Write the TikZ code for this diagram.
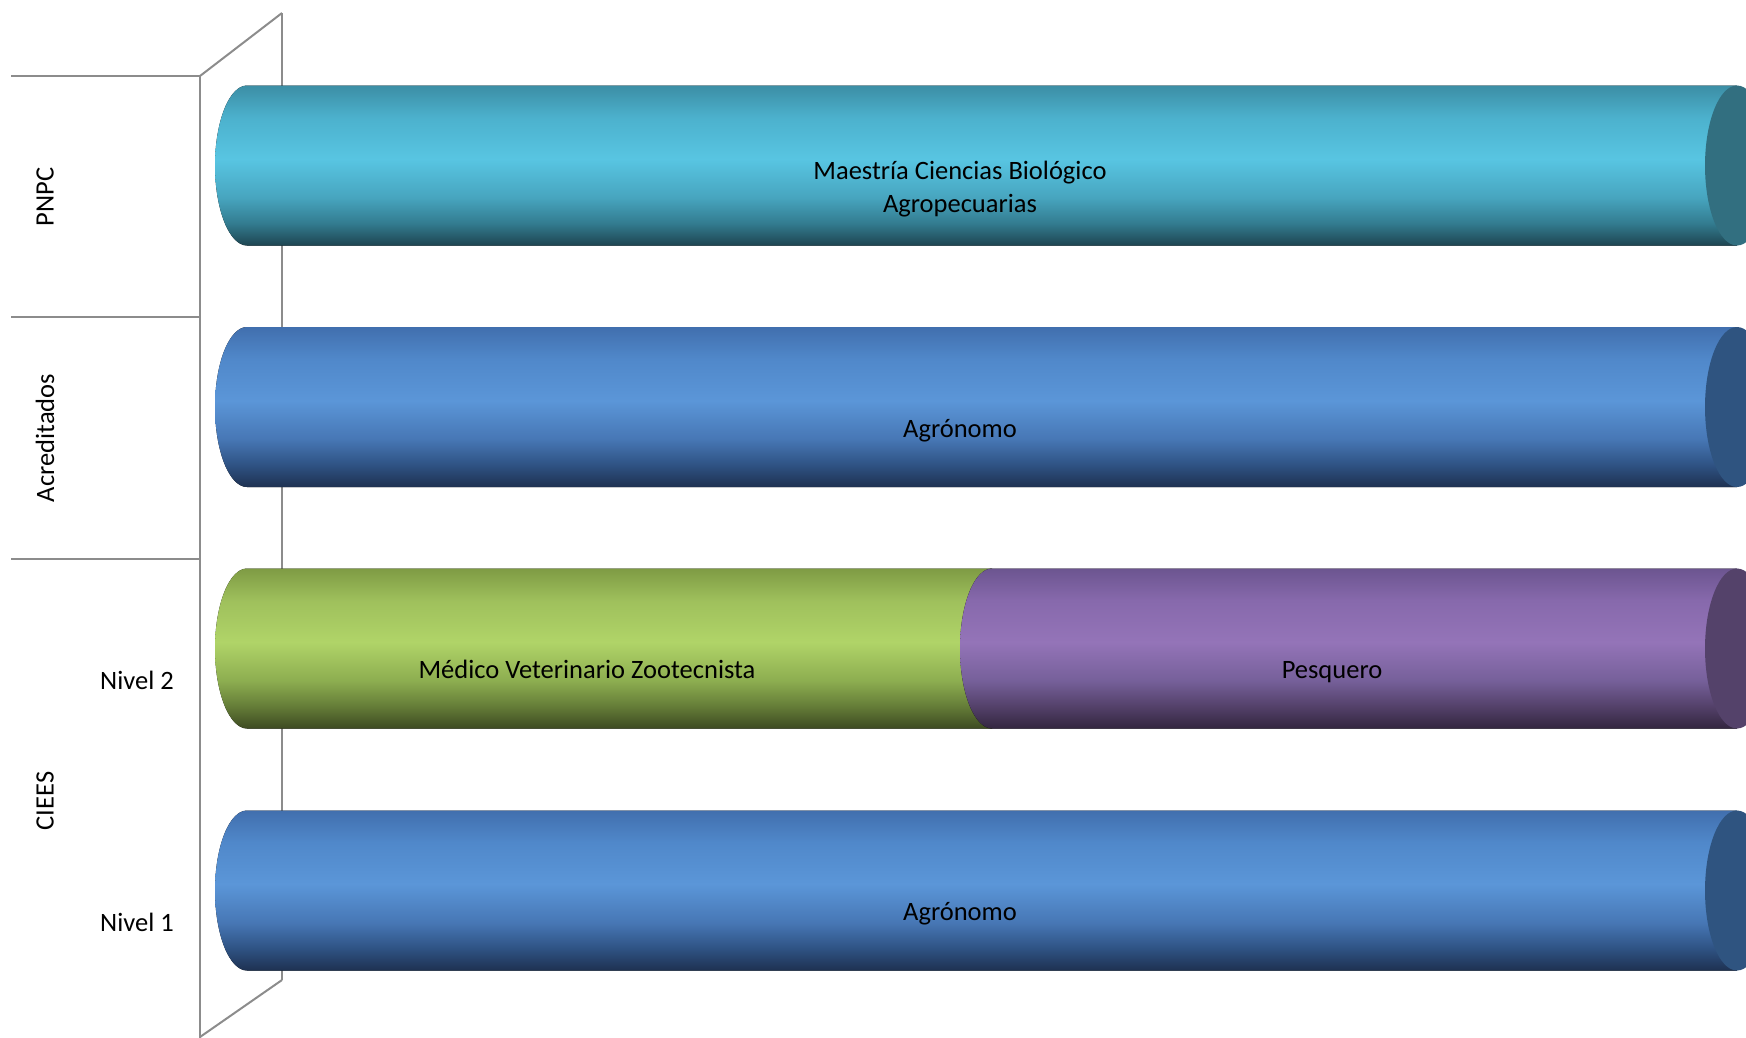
\documentclass[tikz,border=0pt]{standalone}
\usepackage{fontspec}
\setmainfont{Carlito}
% teal
\definecolor{tA}{HTML}{1E4551}\definecolor{tB}{HTML}{337C90}\definecolor{tC}{HTML}{47A5BF}
\definecolor{tD}{HTML}{58C5E2}\definecolor{tE}{HTML}{4CB1CD}\definecolor{tF}{HTML}{3C8EA5}
\definecolor{tCap}{HTML}{326F80}
% blue
\definecolor{bA}{HTML}{1E3151}\definecolor{bB}{HTML}{2F5384}\definecolor{bC}{HTML}{4777B5}
\definecolor{bD}{HTML}{5B96D8}\definecolor{bE}{HTML}{5088CA}\definecolor{bF}{HTML}{416FAE}
\definecolor{bCap}{HTML}{2F5480}
% green
\definecolor{gA}{HTML}{3D4A22}\definecolor{gB}{HTML}{657D38}\definecolor{gC}{HTML}{8DAE50}
\definecolor{gD}{HTML}{B0D468}\definecolor{gE}{HTML}{9FC05C}\definecolor{gF}{HTML}{7E9B44}
% purple
\definecolor{pA}{HTML}{33263F}\definecolor{pB}{HTML}{54416A}\definecolor{pC}{HTML}{76609A}
\definecolor{pD}{HTML}{9474B8}\definecolor{pE}{HTML}{8769AC}\definecolor{pF}{HTML}{6C5590}
\definecolor{pCap}{HTML}{54426A}
\definecolor{axisgray}{HTML}{8C8C8C}
\newcommand\mkshade[7]{%
 \pgfdeclareverticalshading{#1}{100bp}{color(0bp)=(#2); color(25bp)=(#2); color(32bp)=(#3); color(40bp)=(#4); color(52bp)=(#5); color(65bp)=(#6); color(75bp)=(#7); color(100bp)=(#7)}}
\mkshade{tealsh}{tA}{tB}{tC}{tD}{tE}{tF}
\mkshade{bluesh}{bA}{bB}{bC}{bD}{bE}{bF}
\mkshade{greensh}{gA}{gB}{gC}{gD}{gE}{gF}
\mkshade{purplesh}{pA}{pB}{pC}{pD}{pE}{pF}
% x1, x2, yc, shading
\newcommand\cylbody[4]{%
 \fill[shading=#4] (#1,#3-80) -- (#2,#3-80) -- (#2,#3+80) -- (#1,#3+80)
   arc[start angle=270, end angle=90, x radius=32pt, y radius=80pt] -- cycle;}
\newcommand\cylcap[3]{\fill[#3] (#1,#2) ellipse[x radius=32pt, y radius=80pt];}
\tikzset{
  axisline/.style={draw=axisgray, line width=2pt},
  ctext/.style={font=\fontsize{26.5}{33}\selectfont, align=center, text=black, inner sep=0pt},
  ftext/.style={ctext, text height=21pt, text depth=6pt},
  rtext/.style={ctext, rotate=90}
}
\begin{document}
\begin{tikzpicture}[x=1pt,y=-1pt]
\useasboundingbox (0,0) rectangle (1746,1037);
\clip (0,0) rectangle (1746,1037);
% back wall
\draw[axisline] (282,13) -- (282,980);
\draw[axisline] (200,76) -- (282,13);
\draw[axisline] (200,1037) -- (282,980);
% front wall
\draw[axisline] (200,76) -- (200,1040);
\draw[axisline] (11,76) -- (200,76);
\draw[axisline] (11,317) -- (200,317);
\draw[axisline] (11,559) -- (200,559);
% cylinders
\cylbody{247}{1737}{165.5}{tealsh}\cylcap{1737}{165.5}{tCap}
\cylbody{247}{1737}{407}{bluesh}\cylcap{1737}{407}{bCap}
\cylbody{247}{992}{648.5}{greensh}
\cylbody{992}{1737}{648.5}{purplesh}\cylcap{1737}{648.5}{pCap}
\cylbody{247}{1737}{890.5}{bluesh}\cylcap{1737}{890.5}{bCap}
% texts
\node[ctext] (m1) at (960,189.5) {Maestría Ciencias Biológico\\Agropecuarias};
\node[ftext] (m2) at (960,429.5) {Agrónomo};
\node[ftext] (m3) at (587,671) {Médico Veterinario Zootecnista};
\node[ftext] (m4) at (1332,671) {Pesquero};
\node[ftext] (m5) at (960,913) {Agrónomo};
\node[rtext] (l1) at (45,197) {PNPC};
\node[rtext] (l2) at (45,438) {Acreditados};
\node[rtext] (l3) at (45,801) {CIEES};
\node[ctext] (l4) at (137,680) {Nivel 2};
\node[ctext] (l5) at (137,922) {Nivel 1};
\end{tikzpicture}
\end{document}
